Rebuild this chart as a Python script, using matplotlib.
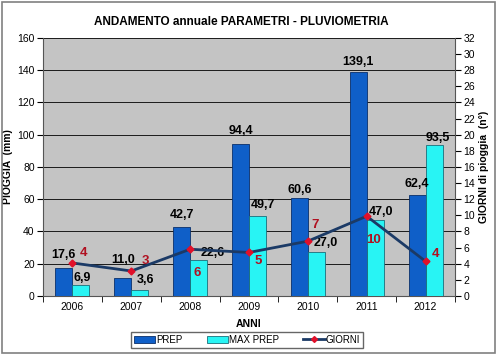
import numpy as np
import matplotlib
matplotlib.use("Agg")
import matplotlib.pyplot as plt
from matplotlib.lines import Line2D
from matplotlib.patches import Rectangle

plt.rcParams['font.family'] = ['Liberation Sans', 'DejaVu Sans']

# data
anni = ['2006', '2007', '2008', '2009', '2010', '2011', '2012']
prep = [17.6, 11.0, 42.7, 94.4, 60.6, 139.1, 62.4]
max_prep = [6.9, 3.6, 22.6, 49.7, 27.0, 47.0, 93.5]
giorni = [4.1, 3.1, 5.8, 5.4, 6.8, 9.9, 4.3]

# label offsets in points (Excel moved some labels by hand)
prep_off = [(0, 9), (0, 13), (0, 9), (0, 9), (0, 6), (0, 7), (0, 8)]
max_off = [(1, 5), (4, 7), (10, 5), (4, 8), (7, 7), (4, 6), (3, 5)]
giorni_off = [(8, 7), (10, 7), (5, -17), (7, -6), (5, 12), (5, -17), (7, 5)]

fig = plt.figure(figsize=(4.97, 3.54), dpi=100)
fig.patches.append(Rectangle((0.004, 0.004), 0.992, 0.99, transform=fig.transFigure,
                             fill=False, edgecolor='#808080', linewidth=1.2))

ax = fig.add_axes([0.0865, 0.1638, 0.829, 0.729])
ax.set_facecolor('#C4C4C4')
x = np.arange(len(anni))
w = 0.29

b1 = ax.bar(x - w / 2, prep, w, color='#0F5FC8', edgecolor='#0A2F6A', linewidth=0.6, label='PREP', zorder=3)
b2 = ax.bar(x + w / 2, max_prep, w, color='#28F4F4', edgecolor='#1A6F7A', linewidth=0.6, label='MAX PREP', zorder=3)

ax.set_ylim(0, 160)
ax.set_yticks(np.arange(0, 161, 20))
ax.set_xlim(-0.5, len(anni) - 0.5)
ax.set_xticks(x)
ax.set_xticklabels(anni)
ax.set_xticks(np.arange(-0.5, len(anni), 1), minor=True)
ax.tick_params(axis='x', which='major', length=0, labelsize=7.5, pad=4)
ax.tick_params(axis='x', which='minor', length=4, direction='out')
ax.tick_params(axis='y', labelsize=7.5, length=4, direction='out', pad=2)
ax.grid(axis='y', color='#1a1a1a', linewidth=0.7, zorder=0)
ax.set_axisbelow(True)
ax.set_ylabel('PIOGGIA  (mm)', fontsize=7.5, fontweight='bold', labelpad=3)
ax.set_xlabel('ANNI', fontsize=7.5, fontweight='bold', labelpad=5)
for s in ['top', 'right']:
    ax.spines[s].set_visible(False)
ax.spines['left'].set_color('#555555')
ax.spines['bottom'].set_color('#555555')

for i in range(len(anni)):
    ax.annotate(f'{prep[i]:.1f}'.replace('.', ','), (x[i] - w / 2, prep[i]), xytext=prep_off[i],
                textcoords='offset points', ha='center', va='center', fontsize=9, fontweight='bold', zorder=6)
    ax.annotate(f'{max_prep[i]:.1f}'.replace('.', ','), (x[i] + w / 2, max_prep[i]), xytext=max_off[i],
                textcoords='offset points', ha='center', va='center', fontsize=9, fontweight='bold', zorder=6)

ax2 = ax.twinx()
ax2.set_ylim(0, 32)
ax2.set_yticks(np.arange(0, 33, 2))
ax2.tick_params(axis='y', labelsize=7.5, length=4, direction='out', pad=2)
for s in ['top', 'left', 'bottom']:
    ax2.spines[s].set_visible(False)
ax2.spines['right'].set_color('#555555')
ax2.set_ylabel('GIORNI di pioggia  (n°)', fontsize=7.5, fontweight='bold', labelpad=3)
ax2.plot(x, giorni, color='#1B3A66', linewidth=2, marker='D', markersize=3.5,
         markerfacecolor='#E0102A', markeredgecolor='#E0102A', zorder=5)
for i in range(len(anni)):
    ax2.annotate(f'{giorni[i]:.0f}', (x[i], giorni[i]), xytext=giorni_off[i], textcoords='offset points',
                 ha='center', va='center', fontsize=9.5, fontweight='bold', color='#B01020')

fig.text(0.485, 0.938, 'ANDAMENTO annuale PARAMETRI - PLUVIOMETRIA', ha='center', va='center',
         fontsize=8.5, fontweight='bold')

handles = [b1, b2, Line2D([], [], color='#1B3A66', linewidth=2, marker='D', markersize=3,
                          markerfacecolor='#E0102A', markeredgecolor='#E0102A')]
fig.legend(handles, ['PREP', 'MAX PREP', 'GIORNI'], loc='center', bbox_to_anchor=(0.497, 0.04),
           ncol=3, fontsize=7, frameon=True, fancybox=False, edgecolor='#404040',
           handlelength=2.2, handletextpad=0.1, columnspacing=2.5, borderpad=0.3)

fig.savefig('out.png', dpi=100)
